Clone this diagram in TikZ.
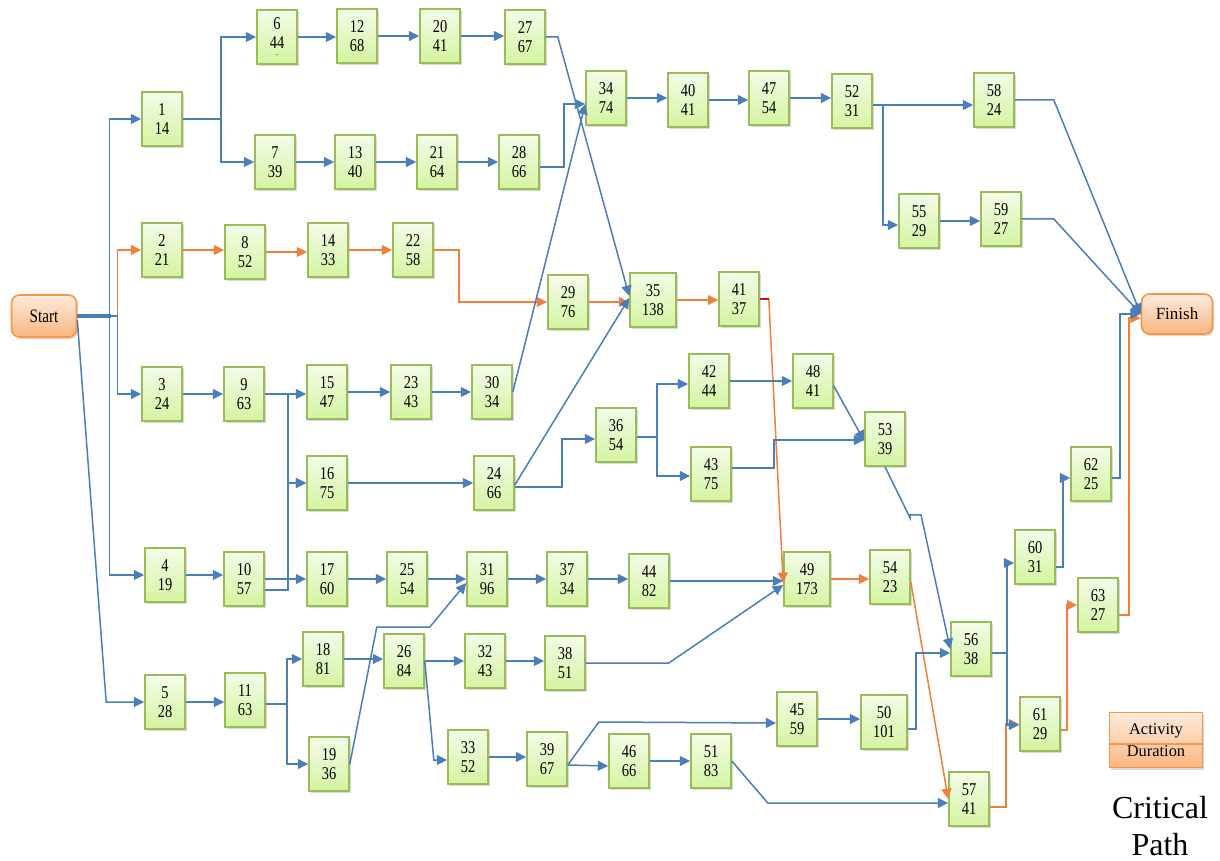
\documentclass[tikz,border=0pt]{standalone}
\usepackage{fontspec}
\setmainfont{Liberation Serif}
\newfontfamily\boxfont{Liberation Serif}[FakeStretch=0.8]
\usetikzlibrary{arrows.meta,calc,shadows}
\definecolor{cblue}{HTML}{4A7EBB}
\definecolor{corange}{HTML}{F07F3C}
\definecolor{cred}{HTML}{D01010}
\definecolor{gborder}{HTML}{9BBB59}
\definecolor{gtop}{HTML}{F4FCE8}
\definecolor{gbot}{HTML}{D3F4A0}
\definecolor{oborder}{HTML}{F79646}
\definecolor{otop}{HTML}{FDEBDD}
\definecolor{obot}{HTML}{FAB680}
\begin{document}
\begin{tikzpicture}[x=0.5pt,y=-0.5pt,
 act/.style={draw=gborder, line width=0.8pt, top color=gtop, bottom color=gbot,
   minimum width=20pt, minimum height=27pt, inner sep=1pt, align=center,
   font=\boxfont\fontsize{9}{9.5}\selectfont,
   drop shadow={shadow xshift=0.8pt, shadow yshift=-1pt, opacity=0.3}},
 wide/.style={minimum width=23pt},
 term/.style={draw=oborder, line width=0.8pt, rounded corners=4pt, top color=otop, bottom color=obot,
   minimum height=21pt, inner sep=1pt,
   drop shadow={shadow xshift=0.8pt, shadow yshift=-1pt, opacity=0.3}},
 flow/.style={draw=cblue, line width=0.75pt, -{Triangle[length=5.2pt,width=5pt]}},
 crit/.style={draw=corange, line width=0.75pt, -{Triangle[length=5.2pt,width=5pt]}}
]
\useasboundingbox (0,0) rectangle (1220,861);

% terminals
\node[term, minimum width=32.5pt, font=\boxfont\fontsize{9.5}{10}\selectfont] (start) at (44,316) {Start};
\node[term, minimum width=35.5pt, minimum height=20pt, font=\fontsize{8.5}{10}\selectfont] (finish) at (1177,314) {Finish};

% activities
\node[act] (n1) at (162,119) {1\\14};
\node[act] (n6) at (277,37) {6\\44\\[-6pt]{\fontsize{5}{5}\selectfont .}};
\node[act] (n12) at (357,36) {12\\68};
\node[act] (n20) at (440,36) {20\\41};
\node[act] (n27) at (525,37) {27\\67};
\node[act] (n7) at (275,162) {7\\39};
\node[act] (n13) at (355,162) {13\\40};
\node[act] (n21) at (437,162) {21\\64};
\node[act] (n28) at (519,162) {28\\66};
\node[act] (n34) at (606,98) {34\\74};
\node[act] (n40) at (688,100) {40\\41};
\node[act] (n47) at (769,98) {47\\54};
\node[act] (n52) at (852,101) {52\\31};
\node[act] (n58) at (994,100) {58\\24};
\node[act] (n55) at (919,221) {55\\29};
\node[act] (n59) at (1001,219) {59\\27};
\node[act] (n2) at (162,250) {2\\21};
\node[act] (n8) at (245,252) {8\\52};
\node[act] (n14) at (328,250) {14\\33};
\node[act] (n22) at (413,250) {22\\58};
\node[act] (n29) at (568,302) {29\\76};
\node[act,wide] (n35) at (653,300) {35\\138};
\node[act] (n41) at (739,299) {41\\37};
\node[act] (n3) at (162,394) {3\\24};
\node[act] (n9) at (244,394) {9\\63};
\node[act] (n15) at (327,392) {15\\47};
\node[act] (n23) at (411,392) {23\\43};
\node[act] (n30) at (492,392) {30\\34};
\node[act] (n16) at (327,483) {16\\75};
\node[act] (n24) at (494,483) {24\\66};
\node[act] (n36) at (616,435) {36\\54};
\node[act] (n42) at (709,381) {42\\44};
\node[act] (n43) at (711,474) {43\\75};
\node[act] (n48) at (813,381) {48\\41};
\node[act] (n53) at (885,439) {53\\39};
\node[act] (n4) at (165,575) {4\\19};
\node[act] (n10) at (244,579) {10\\57};
\node[act] (n17) at (327,579) {17\\60};
\node[act] (n25) at (407,579) {25\\54};
\node[act] (n31) at (487,579) {31\\96};
\node[act] (n37) at (567,579) {37\\34};
\node[act] (n44) at (649,581) {44\\82};
\node[act,wide] (n49) at (807,579) {49\\173};
\node[act] (n54) at (890,577) {54\\23};
\node[act] (n18) at (323,659) {18\\81};
\node[act] (n26) at (404,661) {26\\84};
\node[act] (n32) at (485,661) {32\\43};
\node[act] (n38) at (565,663) {38\\51};
\node[act] (n5) at (165,702) {5\\28};
\node[act] (n11) at (245,700) {11\\63};
\node[act] (n19) at (329,764) {19\\36};
\node[act] (n33) at (468,757) {33\\52};
\node[act] (n39) at (547,759) {39\\67};
\node[act] (n46) at (629,761) {46\\66};
\node[act] (n51) at (711,761) {51\\83};
\node[act] (n45) at (797,719) {45\\59};
\node[act,wide] (n50) at (884,722) {50\\101};
\node[act] (n56) at (971,649) {56\\38};
\node[act] (n57) at (969,799) {57\\41};
\node[act] (n60) at (1035,557) {60\\31};
\node[act] (n61) at (1040,724) {61\\29};
\node[act] (n62) at (1091,474) {62\\25};
\node[act] (n63) at (1098,605) {63\\27};

% legend
\node[draw=oborder, line width=0.8pt, top color=otop, bottom color=obot,
  minimum width=46.5pt, minimum height=27.5pt, inner sep=1pt, align=center,
  font=\fontsize{8.2}{11}\selectfont,
  drop shadow={shadow xshift=0.8pt, shadow yshift=-1pt, opacity=0.3}] (legend) at (1156,740) {Activity\\Duration};
\draw[draw=oborder, line width=0.8pt] ($(legend.west)+(0,4)$) -- ($(legend.east)+(0,4)$);
\node[align=center, font=\fontsize{16}{18.5}\selectfont] (crittext) at (1160,826) {Critical\\Path};

% ---------- critical (orange) connectors ----------
\draw[crit] (start.east) -- ++(40,0) |- (n2);
\draw[crit] (n2.east) -- (n2.east -| n8.west);
\draw[crit] (n8.east) -- (n8.east -| n14.west);
\draw[crit] (n14.east) -- (n14.east -| n22.west);
\draw[crit] (n22.east) -- ++(25,0) |- (n29);
\draw[crit] (n29.east) -- (n29.east -| n35.west);
\draw[crit] (n35.east) -- (n35.east -| n41.west);
\draw[crit] (n41.east) -- ++(9,0) -- ($(n49.west)+(0,4)$);
\draw[draw=cred, line width=0.9pt] (n41.east) -- ++(9,0);
\draw[crit] (n49.east) -- (n49.east -| n54.west);
\draw[crit] ($(n54.east)+(0,5)$) -- (n57.west);
\draw[crit] ($(n57.east)+(0,8)$) -- ++(16,0) |- (n61);
\draw[crit] ($(n61.east)+(0,6)$) -- ++(6,0) |- (n63);
\draw[crit] ($(n63.east)+(0,10)$) -- ++(10,0) |- ($(finish.west)+(0,4)$);

% ---------- other (blue) connectors ----------
\draw[cblue, line width=1.6pt] (start.east) -- ++(34,0);
\draw[flow] (start.east) -- ++(32,0) |- (n1);
\draw[flow] (start.east) -- ++(40,0) |- (n3);
\draw[flow] (start.east) -- ++(32,0) |- (n4);
\draw[flow] ($(start.east)+(0,4)$) -- ($(n5.west)+(-38,0)$) -- (n5);

\draw[flow] (n1.east) -- ++(38,0) |- (n6);
\draw[flow] (n1.east) -- ++(38,0) |- (n7);
\draw[flow] (n6.east) -- (n6.east -| n12.west);
\draw[flow] (n12.east) -- (n12.east -| n20.west);
\draw[flow] (n20.east) -- (n20.east -| n27.west);
\draw[flow] (n27.east) -- ++(12,0) -- ($(n35.west)+(0,-4)$);
\draw[flow] (n7.east) -- (n7.east -| n13.west);
\draw[flow] (n13.east) -- (n13.east -| n21.west);
\draw[flow] (n21.east) -- (n21.east -| n28.west);
\draw[flow] ($(n28.east)+(0,5)$) -- ++(24,0) |- ($(n34.west)+(0,6)$);
\draw[flow] (n30.east) -- ($(n34.west)+(0,6)$);
\draw[flow] (n34.east) -- (n34.east -| n40.west);
\draw[flow] (n40.east) -- (n40.east -| n47.west);
\draw[flow] (n47.east) -- (n47.east -| n52.west);
\draw[flow] ($(n52.east)+(0,4)$) -- ($(n58.west)+(0,5)$);
\draw[flow] ($(n52.east)+(0,4)$) -- ++(10,0) |- ($(n55.west)+(0,4)$);
\draw[flow] (n55.east) -- (n55.east -| n59.west);
\draw[flow] (n58.east) -- ++(39,0) -- (finish.west);
\draw[flow] (n59.east) -- ++(32,0) -- (finish.west);

\draw[flow] (n3.east) -- (n3.east -| n9.west);
\draw[flow] (n9.east) -- (n9.east -| n15.west);
\draw[flow] (n9.east) -- ++(23,0) |- (n16);
\draw[flow] ($(n10.east)+(0,11)$) -- ++(23,0) |- (n16);
\draw[flow] (n15.east) -- (n15.east -| n23.west);
\draw[flow] (n23.east) -- (n23.east -| n30.west);
\draw[flow] (n16.east) -- (n16.east -| n24.west);
\draw[flow] ($(n24.east)+(0,2)$) -- ($(n35.west)+(0,-2)$);
\draw[flow] ($(n24.east)+(0,4)$) -- ++(47,0) |- ($(n36.west)+(0,4)$);
\draw[flow] ($(n36.east)+(0,2)$) -- ++(20,0) |- ($(n42.west)+(0,3)$);
\draw[flow] ($(n36.east)+(0,2)$) -- ++(20,0) |- ($(n43.west)+(0,2)$);
\draw[flow] (n42.east) -- (n42.east -| n48.west);
\draw[flow] ($(n43.east)+(0,-6)$) -- ++(42,0) |- ($(n53.west)+(0,1)$);
\draw[flow] ($(n48.east)+(0,5)$) -- ($(n53.west)+(0,2)$);
\draw[flow] (n53.south) -- ++(25,51) -- ++(0,-3) -- ++(11,0) -- (n56.west);

\draw[flow] (n4.east) -- (n4.east -| n10.west);
\draw[flow] (n10.east) -- (n10.east -| n17.west);
\draw[flow] (n17.east) -- (n17.east -| n25.west);
\draw[flow] (n25.east) -- (n25.east -| n31.west);
\draw[flow] (n19.east) -- ++(27,-137) -- ++(53,0) -- ($(n31.west)+(0,4)$);
\draw[flow] (n31.east) -- (n31.east -| n37.west);
\draw[flow] (n37.east) -- (n37.east -| n44.west);
\draw[flow] (n44.east) -- (n44.east -| n49.west);
\draw[flow] (n38.east) -- ++(83,0) -- ($(n49.west)+(0,6)$);

\draw[flow] (n5.east) -- (n5.east -| n11.west);
\draw[flow] ($(n11.east)+(0,4)$) -- ++(21,0) |- (n18);
\draw[flow] ($(n11.east)+(0,4)$) -- ++(21,0) |- (n19);
\draw[flow] (n18.east) -- (n18.east -| n26.west);
\draw[flow] (n26.east) -- (n26.east -| n32.west);
\draw[flow] (n26.east) -- ++(9,99) -- ($(n33.west)+(0,3)$);
\draw[flow] (n32.east) -- (n32.east -| n38.west);
\draw[flow] (n33.east) -- (n33.east -| n39.west);
\draw[flow] ($(n39.east)+(0,6)$) -- ($(n46.west)+(0,5)$);
\draw[flow] ($(n39.east)+(0,6)$) -- ++(31,-43) -- ($(n45.west)+(0,4)$);
\draw[flow] (n46.east) -- (n46.east -| n51.west);
\draw[flow] (n51.east) -- ++(36,42) -- ($(n57.west)+(0,4)$);
\draw[flow] (n45.east) -- (n45.east -| n50.west);
\draw[flow] ($(n50.east)+(0,7)$) -- ++(8,0) |- ($(n56.west)+(0,4)$);

\draw[flow] ($(n56.east)+(0,4)$) -- ++(15,0) |- ($(n60.west)+(0,6)$);
\draw[flow] ($(n56.east)+(0,4)$) -- ++(15,0) |- ($(n61.west)+(0,1)$);
\draw[flow] ($(n60.east)+(0,10)$) -- ++(7,0) |- ($(n62.west)+(0,4)$);
\draw[flow] ($(n62.east)+(0,4)$) -- ++(8,0) |- (finish.west);
\end{tikzpicture}
\end{document}
